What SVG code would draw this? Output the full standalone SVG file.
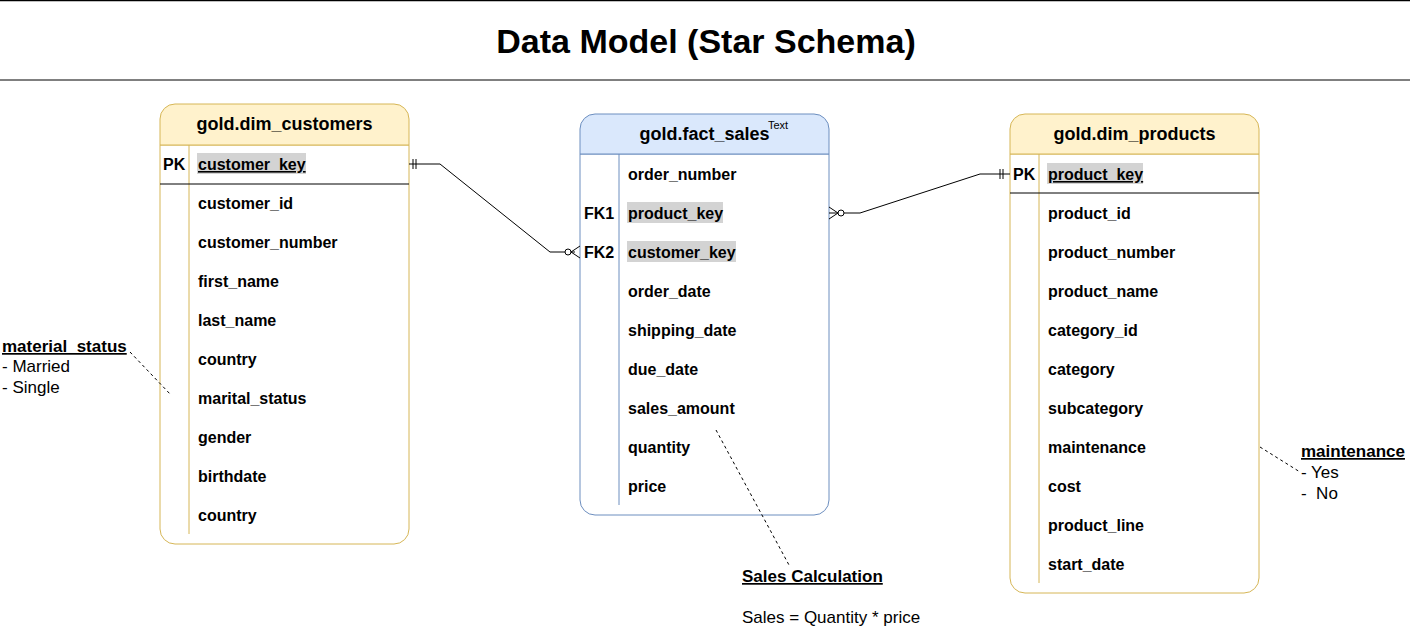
<svg xmlns="http://www.w3.org/2000/svg" width="1410" height="633" viewBox="0 0 1410 633">
<style>
text{font-family:"Liberation Sans",Arial,sans-serif;fill:#000}
.h{font-size:18px;font-weight:bold}
.r{font-size:16px;font-weight:bold}
.nb{font-size:17px;font-weight:bold}
.n{font-size:17px}
.u{text-decoration:underline}
.y{fill:#fff2cc;stroke:#d6b656;stroke-width:1}
.yb{fill:#fff;stroke:#d6b656;stroke-width:1}
.b{fill:#dae8fc;stroke:#6c8ebf;stroke-width:1}
.bb{fill:#fff;stroke:#6c8ebf;stroke-width:1}
.hl{fill:#d3d3d3}
.con{fill:none;stroke:#000;stroke-width:1}
.dash{fill:none;stroke:#000;stroke-width:1;stroke-dasharray:3 3}
</style>
<rect width="1410" height="633" fill="#fff"/>
<g id="title">
<line x1="0" y1="0.5" x2="1410" y2="0.5" stroke="#000" stroke-width="1.5"/>
<line x1="0" y1="80" x2="1410" y2="80" stroke="#000" stroke-width="1"/>
<text x="706" y="53" text-anchor="middle" font-size="34" font-weight="bold">Data Model (Star Schema)</text>
</g>
<g id="dim_customers">
<path class="yb" d="M160,145 H409 V529 a15,15 0 0 1 -15,15 H175 a15,15 0 0 1 -15,-15 Z"/>
<path class="y" d="M160,145 V119 a15,15 0 0 1 15,-15 H394 a15,15 0 0 1 15,15 V145 Z"/>
<line x1="189" y1="145" x2="189" y2="534" stroke="#d6b656"/>
<line x1="160" y1="184" x2="409" y2="184" stroke="#000"/>
<text class="h" x="284.5" y="130" text-anchor="middle">gold.dim_customers</text>
<text class="r" x="163" y="170">PK</text>
<rect class="hl" x="197" y="153" width="109" height="21"/>
<text class="r u" x="198" y="170">customer_key</text>
<text class="r" x="198" y="209">customer_id</text>
<text class="r" x="198" y="248">customer_number</text>
<text class="r" x="198" y="287">first_name</text>
<text class="r" x="198" y="326">last_name</text>
<text class="r" x="198" y="365">country</text>
<text class="r" x="198" y="404">marital_status</text>
<text class="r" x="198" y="443">gender</text>
<text class="r" x="198" y="482">birthdate</text>
<text class="r" x="198" y="521">country</text>
</g>
<g id="fact_sales">
<path class="bb" d="M580,154 H829 V500 a15,15 0 0 1 -15,15 H595 a15,15 0 0 1 -15,-15 Z"/>
<path class="b" d="M580,154 V129 a15,15 0 0 1 15,-15 H814 a15,15 0 0 1 15,15 V154 Z"/>
<line x1="619" y1="154" x2="619" y2="505" stroke="#6c8ebf"/>
<text class="h" x="704.5" y="140" text-anchor="middle">gold.fact_sales</text>
<text x="768" y="129" font-size="11">Text</text>
<text class="r" x="628" y="180">order_number</text>
<text class="r" x="584" y="219">FK1</text>
<rect class="hl" x="627" y="202" width="96" height="21"/>
<text class="r" x="628" y="219">product_key</text>
<text class="r" x="584" y="258">FK2</text>
<rect class="hl" x="627" y="241" width="109" height="21"/>
<text class="r" x="628" y="258">customer_key</text>
<text class="r" x="628" y="297">order_date</text>
<text class="r" x="628" y="336">shipping_date</text>
<text class="r" x="628" y="375">due_date</text>
<text class="r" x="628" y="414">sales_amount</text>
<text class="r" x="628" y="453">quantity</text>
<text class="r" x="628" y="492">price</text>
</g>
<g id="dim_products">
<path class="yb" d="M1010,154 H1259 V578 a15,15 0 0 1 -15,15 H1025 a15,15 0 0 1 -15,-15 Z"/>
<path class="y" d="M1010,154 V129 a15,15 0 0 1 15,-15 H1244 a15,15 0 0 1 15,15 V154 Z"/>
<line x1="1039" y1="154" x2="1039" y2="583" stroke="#d6b656"/>
<line x1="1010" y1="193" x2="1259" y2="193" stroke="#000"/>
<text class="h" x="1134.5" y="140" text-anchor="middle">gold.dim_products</text>
<text class="r" x="1013" y="180">PK</text>
<rect class="hl" x="1047" y="163" width="96" height="21"/>
<text class="r u" x="1048" y="180">product_key</text>
<text class="r" x="1048" y="219">product_id</text>
<text class="r" x="1048" y="258">product_number</text>
<text class="r" x="1048" y="297">product_name</text>
<text class="r" x="1048" y="336">category_id</text>
<text class="r" x="1048" y="375">category</text>
<text class="r" x="1048" y="414">subcategory</text>
<text class="r" x="1048" y="453">maintenance</text>
<text class="r" x="1048" y="492">cost</text>
<text class="r" x="1048" y="531">product_line</text>
<text class="r" x="1048" y="570">start_date</text>
</g>
<g id="connectors">
<path class="con" d="M409,164 H440 L550,252 H575"/>
<line x1="413" y1="159" x2="413" y2="169" stroke="#000"/>
<line x1="416" y1="159" x2="416" y2="169" stroke="#000"/>
<circle cx="568" cy="252" r="3" fill="#fff" stroke="#000"/>
<path class="con" d="M580,246 L571,252 L580,258"/>
<path class="con" d="M829,213 H860 L980,174 H1010"/>
<line x1="1000" y1="169" x2="1000" y2="179" stroke="#000"/>
<line x1="1003" y1="169" x2="1003" y2="179" stroke="#000"/>
<circle cx="841" cy="213" r="3" fill="#fff" stroke="#000"/>
<path class="con" d="M829,207 L838,213 L829,219"/>
<line class="dash" x1="130" y1="352" x2="171" y2="395"/>
<line class="dash" x1="1260" y1="447" x2="1300" y2="472"/>
<line class="dash" x1="716" y1="430" x2="789" y2="565"/>
</g>
<g id="note_marital">
<text class="nb u" x="2" y="352">material_status</text>
<text class="n" x="2" y="372">- Married</text>
<text class="n" x="2" y="393">- Single</text>
</g>
<g id="note_maintenance">
<text class="nb u" x="1301" y="457">maintenance</text>
<text class="n" x="1301" y="478">- Yes</text>
<text class="n" x="1301" y="499" xml:space="preserve">-  No</text>
</g>
<g id="note_sales">
<text class="nb u" x="742" y="582">Sales Calculation</text>
<text class="n" x="742" y="623">Sales = Quantity * price</text>
</g>
</svg>
